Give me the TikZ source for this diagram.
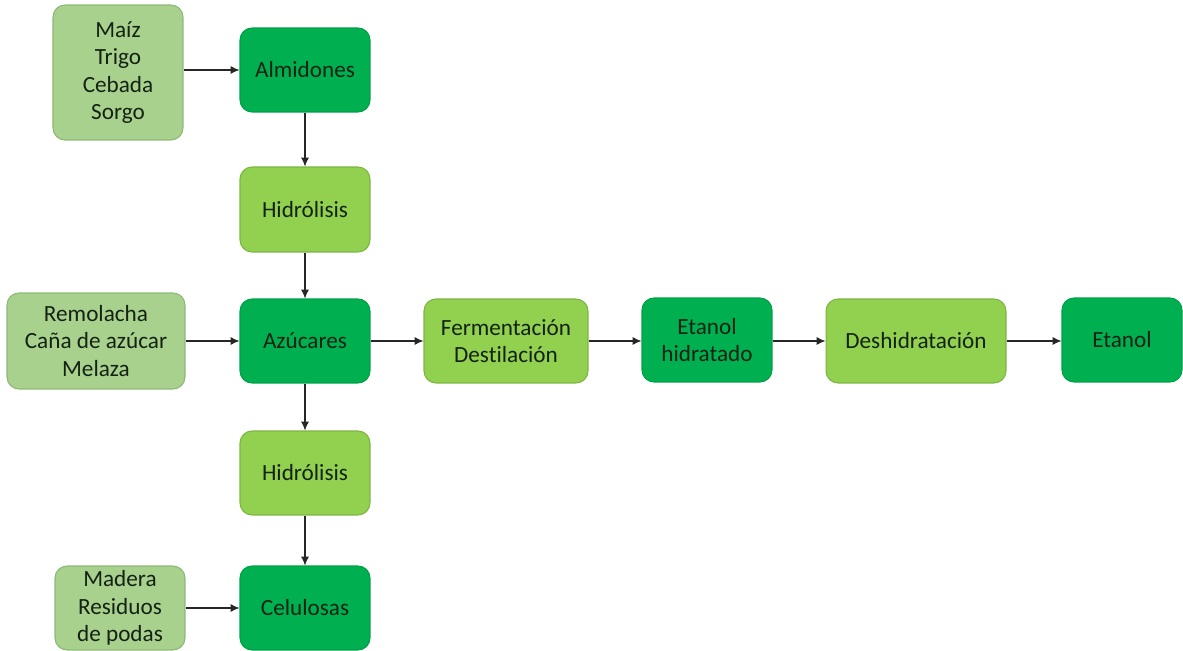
\documentclass[tikz,border=0pt]{standalone}
\usepackage{fontspec}
\setmainfont{Carlito}[Ligatures={NoCommon}]
\usetikzlibrary{arrows.meta}
\definecolor{dkg}{HTML}{00B050}
\definecolor{dkgb}{HTML}{00A046}
\definecolor{ltg}{HTML}{92D050}
\definecolor{ltgb}{HTML}{7DB542}
\definecolor{mtg}{HTML}{A9D18E}
\definecolor{mtgb}{HTML}{8DB874}
\definecolor{txt}{HTML}{142214}
\tikzset{
  box/.style={rectangle, rounded corners=0.24cm, line width=0.6pt, align=center,
    text=txt, font=\fontsize{13.2}{15.7}\selectfont, inner sep=2pt},
  dark/.style={box, fill=dkg, draw=dkgb},
  light/.style={box, fill=ltg, draw=ltgb},
  src/.style={box, fill=mtg, draw=mtgb},
  conn/.style={line width=0.6pt, draw=black!85, -{Latex[length=5pt,width=4.5pt]}}
}
\begin{document}
\begin{tikzpicture}[x=0.02cm,y=-0.02cm]
\useasboundingbox (0,0) rectangle (1183,651);
\node[src, minimum width=2.6cm, minimum height=2.7cm] (maiz) at (118,72.5) {Maíz\\Trigo\\Cebada\\Sorgo};
\node[dark, minimum width=2.6cm, minimum height=1.68cm] (alm) at (305,70) {Almidones};
\node[light, minimum width=2.6cm, minimum height=1.7cm] (hid1) at (305,209.5) {Hidrólisis};
\node[src, minimum width=3.56cm, minimum height=1.92cm] (rem) at (96,341) {Remolacha\\Caña de azúcar\\Melaza};
\node[dark, minimum width=2.6cm, minimum height=1.68cm] (azu) at (305,341) {Azúcares};
\node[light, minimum width=3.28cm, minimum height=1.68cm] (fer) at (506,341) {Fermentación\\Destilación};
\node[dark, minimum width=2.6cm, minimum height=1.68cm] (eth) at (707,340) {Etanol\\hidratado};
\node[light, minimum width=3.6cm, minimum height=1.68cm] (des) at (916,341) {Deshidratación};
\node[dark, minimum width=2.4cm, minimum height=1.68cm] (eta) at (1122,340) {Etanol};
\node[light, minimum width=2.6cm, minimum height=1.68cm] (hid2) at (305,473) {Hidrólisis};
\node[src, minimum width=2.6cm, minimum height=1.68cm] (mad) at (120,608) {Madera\\Residuos\\de podas};
\node[dark, minimum width=2.6cm, minimum height=1.68cm] (cel) at (305,608) {Celulosas};
\draw[conn] (maiz.east |- alm.west) -- (alm.west);
\draw[conn] (alm) -- (hid1);
\draw[conn] (hid1) -- (azu);
\draw[conn] (rem) -- (azu);
\draw[conn] (azu) -- (fer);
\draw[conn] (fer) -- (eth.west |- fer.east);
\draw[conn] (eth.east |- des.west) -- (des.west);
\draw[conn] (des) -- (eta.west |- des.east);
\draw[conn] (azu) -- (hid2);
\draw[conn] (hid2) -- (cel);
\draw[conn] (mad) -- (cel);
\end{tikzpicture}
\end{document}
